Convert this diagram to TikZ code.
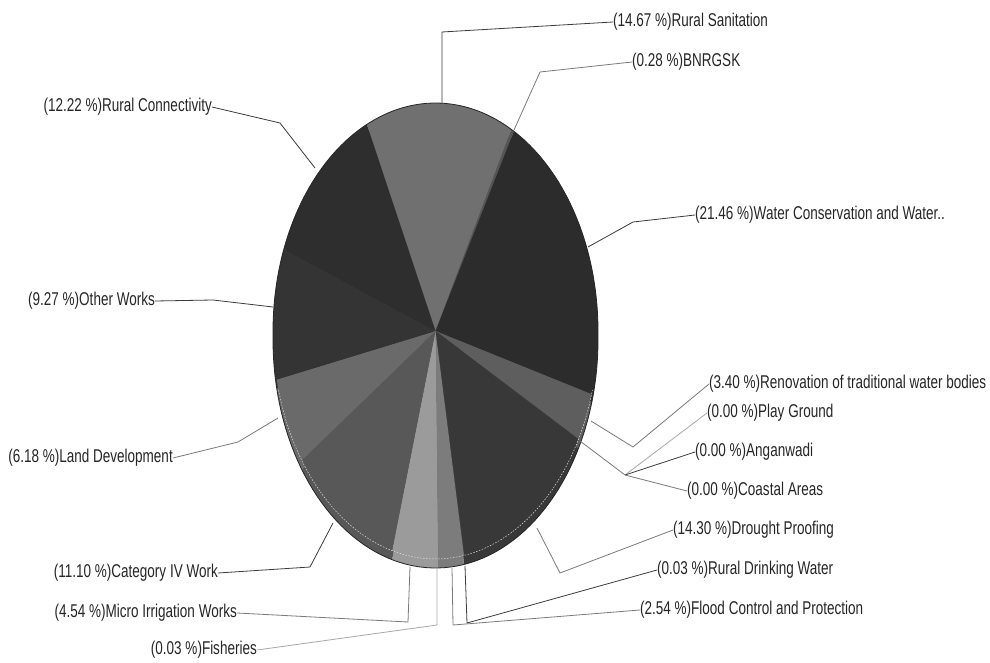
\documentclass[tikz,border=0pt]{standalone}
\usepackage{fontspec}
\setmainfont{Liberation Sans}[FakeStretch=0.73]
\definecolor{txt}{HTML}{262626}
\definecolor{cRS}{HTML}{707070}
\definecolor{cBN}{HTML}{555555}
\definecolor{cWC}{HTML}{2C2C2C}
\definecolor{cRN}{HTML}{5E5E5E}
\definecolor{cDP}{HTML}{383838}
\definecolor{cRD}{HTML}{444444}
\definecolor{cFC}{HTML}{7C7C7C}
\definecolor{cFI}{HTML}{666666}
\definecolor{cMI}{HTML}{9B9B9B}
\definecolor{cCF}{HTML}{585858}
\definecolor{cLD}{HTML}{6A6A6A}
\definecolor{cOW}{HTML}{343434}
\definecolor{cRC}{HTML}{2E2E2E}
\definecolor{lnDark}{HTML}{3C3C3C}
\definecolor{lnMid}{HTML}{7A7A7A}
\definecolor{lnLight}{HTML}{A8A8A8}
\def\cx{435.5}
\def\cy{331}
\def\rx{162.5}
\def\ry{228}
\newcommand\pieslice[3]{%
  \fill[#3] (\cx,\cy) -- plot[domain=#1:#2,samples=40,variable=\t]
    ({\cx+\rx*cos(\t)},{\cy-\ry*sin(\t)}) -- cycle;}
\newcommand\allslices{%
  \pieslice{115}{62.19}{cRS}
  \pieslice{62.19}{61.18}{cBN}
  \pieslice{61.18}{-16.08}{cWC}
  \pieslice{-16.08}{-28.32}{cRN}
  \pieslice{-28.32}{-79.80}{cDP}
  \pieslice{-79.80}{-79.91}{cRD}
  \pieslice{-79.91}{-89.05}{cFC}
  \pieslice{-89.05}{-89.16}{cFI}
  \pieslice{-89.16}{-105.50}{cMI}
  \pieslice{-105.50}{-145.46}{cCF}
  \pieslice{-145.46}{-167.71}{cLD}
  \pieslice{-167.71}{-201.08}{cOW}
  \pieslice{-201.08}{-245.00}{cRC}}
\begin{document}
\begin{tikzpicture}[x=1pt,y=-1pt,
  lbl/.style={font=\fontsize{18.5}{20}\selectfont, text=txt, inner sep=0pt},
  lead/.style={line width=0.8pt, line join=round},
  dk/.style={lead, draw=lnDark},
  md/.style={lead, draw=lnMid},
  lt/.style={lead, draw=lnLight}]
\useasboundingbox (0,0) rectangle (990,663);
\fill[white] (0,0) rectangle (990,663);
% side wall of the pie
\begin{scope}[yshift=-9pt]
  \allslices
\end{scope}
% top face
\allslices
% highlight along the front rim of the top face
\draw[white!75!gray, line width=0.5pt, dash pattern=on 1.5pt off 1.5pt]
  plot[domain=-165:-15,samples=60,variable=\t] ({\cx+\rx*cos(\t)},{\cy-\ry*sin(\t)});
% outline
\draw[black!85, line width=0.8pt]
  plot[domain=0:180,samples=80,variable=\t] ({\cx+\rx*cos(\t)},{\cy-\ry*sin(\t)})
  -- ++(0,9)
  -- plot[domain=180:360,samples=80,variable=\t] ({\cx+\rx*cos(\t)},{\cy+9-\ry*sin(\t)})
  -- cycle;
% labels, right side
\node[lbl,anchor=west] (rs) at (613,22) {(14.67 \%)Rural Sanitation};
\node[lbl,anchor=west] (bn) at (632,62) {(0.28 \%)BNRGSK};
\node[lbl,anchor=west] (wc) at (695,215) {(21.46 \%)Water Conservation and Water..};
\node[lbl,anchor=west] (rn) at (709,384) {(3.40 \%)Renovation of traditional water bodies};
\node[lbl,anchor=west] (pg) at (707,413) {(0.00 \%)Play Ground};
\node[lbl,anchor=west] (an) at (695,452) {(0.00 \%)Anganwadi};
\node[lbl,anchor=west] (ca) at (687,491) {(0.00 \%)Coastal Areas};
\node[lbl,anchor=west] (dp) at (673,530) {(14.30 \%)Drought Proofing};
\node[lbl,anchor=west] (rd) at (657,570) {(0.03 \%)Rural Drinking Water};
\node[lbl,anchor=west] (fc) at (640,610) {(2.54 \%)Flood Control and Protection};
% labels, left side
\node[lbl,anchor=east] (rc) at (212,107) {(12.22 \%)Rural Connectivity};
\node[lbl,anchor=east] (ow) at (155,301) {(9.27 \%)Other Works};
\node[lbl,anchor=east] (ld) at (173,458) {(6.18 \%)Land Development};
\node[lbl,anchor=east] (c4) at (218,573) {(11.10 \%)Category IV Work};
\node[lbl,anchor=east] (mi) at (237,613) {(4.54 \%)Micro Irrigation Works};
\node[lbl,anchor=east] (fi) at (257,650) {(0.03 \%)Fisheries};
% leader coordinates
\coordinate (rsK) at (442,32);   \coordinate (rsE) at (442,103);
\coordinate (bnK) at (540,72);   \coordinate (bnE) at (514,130);
\coordinate (wcK) at (633,222);  \coordinate (wcE) at (588,247);
\coordinate (rnK) at (633,447);  \coordinate (rnE) at (591,421);
\coordinate (zK)  at (625,475);  \coordinate (zE)  at (580,441);
\coordinate (dpK) at (560,573);  \coordinate (dpE) at (537,528);
\coordinate (rdK) at (467,623);  \coordinate (rdE) at (465,566);
\coordinate (fcK) at (453,625);  \coordinate (fcE) at (452,568);
\coordinate (fiK) at (437,625);  \coordinate (fiE) at (437,569);
\coordinate (miK) at (408,622);  \coordinate (miE) at (410,567);
\coordinate (c4K) at (310,567);  \coordinate (c4E) at (333,523);
\coordinate (ldK) at (238,442);  \coordinate (ldE) at (278,418);
\coordinate (owK) at (213,300);  \coordinate (owE) at (273,307);
\coordinate (rcK) at (280,123);  \coordinate (rcE) at (315,168);
% leaders
\draw[dk] (rs.west) -- (rsK) -- (rsE);
\draw[md] (bn.west) -- (bnK) -- (bnE);
\draw[dk] (wc.west) -- (wcK) -- (wcE);
\draw[md] (rn.west) -- (rnK) -- (rnE);
\draw[lt] (pg.west) -- (zK);
\draw[dk] (an.west) -- (zK);
\draw[md] (ca.west) -- (zK) -- (zE);
\draw[md] (dp.west) -- (dpK) -- (dpE);
\draw[dk] (rd.west) -- (rdK) -- (rdE);
\draw[md] (fc.west) -- (fcK) -- (fcE);
\draw[lt] (fi.east) -- (fiK) -- (fiE);
\draw[md] (mi.east) -- (miK) -- (miE);
\draw[dk] (c4.east) -- (c4K) -- (c4E);
\draw[md] (ld.east) -- (ldK) -- (ldE);
\draw[dk] (ow.east) -- (owK) -- (owE);
\draw[dk] (rc.east) -- (rcK) -- (rcE);
\end{tikzpicture}
\end{document}
